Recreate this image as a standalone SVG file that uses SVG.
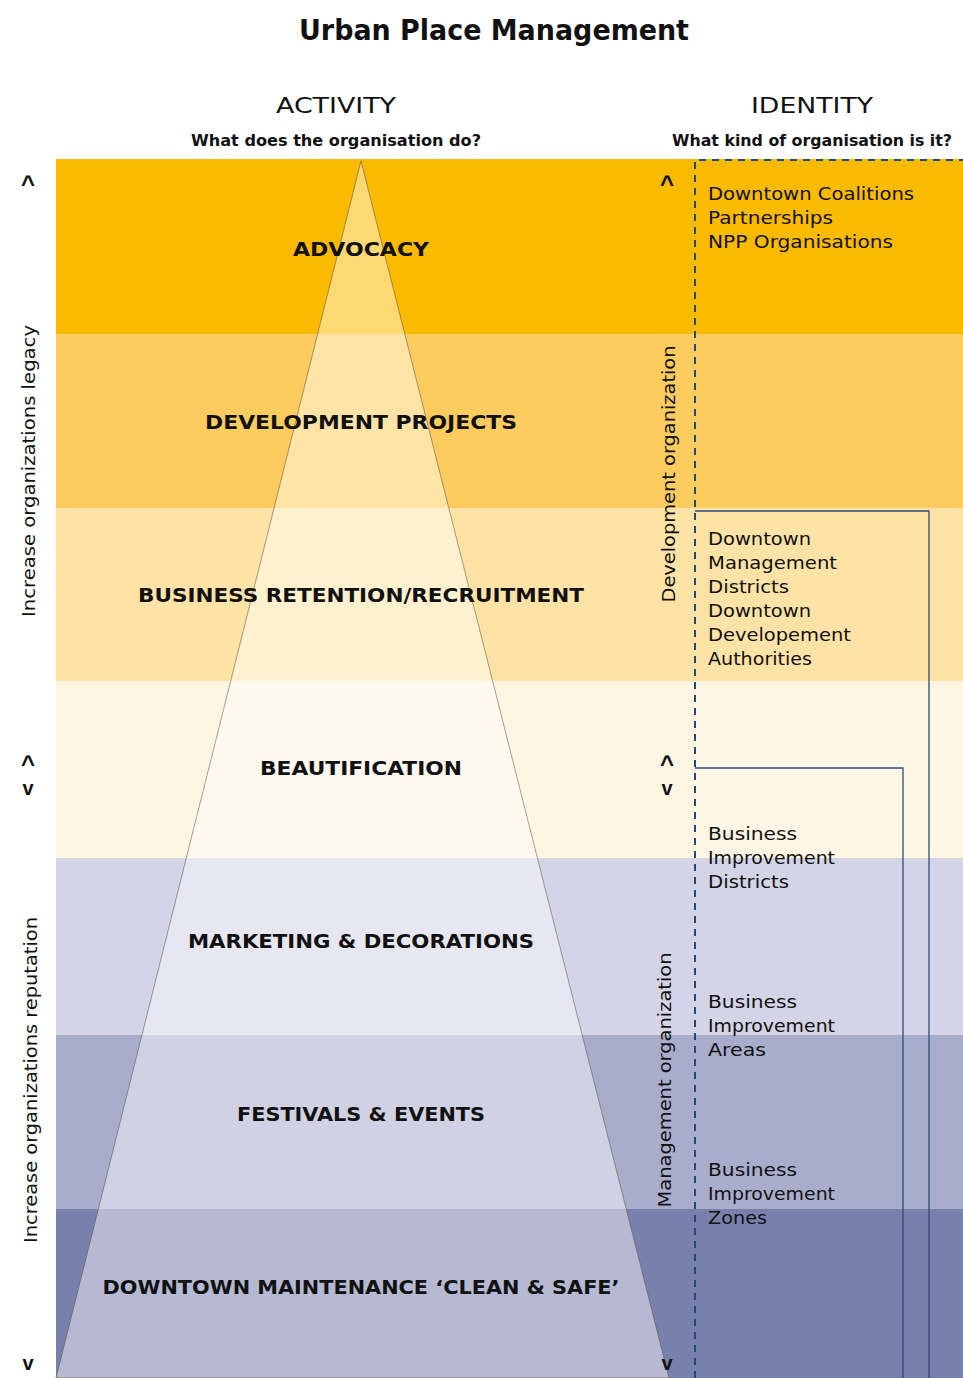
<svg xmlns="http://www.w3.org/2000/svg" width="963" height="1378" viewBox="0 0 963 1378">
<style>
.t{font-family:"DejaVu Sans","Liberation Sans",sans-serif;fill:#111}
.title{font-size:28px;font-weight:700;text-anchor:middle}
.hd{font-size:22px;font-weight:400;text-anchor:middle}
.sub{font-size:15.5px;font-weight:700;text-anchor:middle}
.band{font-size:20px;font-weight:700;text-anchor:middle}
.id{font-size:18px;font-weight:400}
.side{font-size:18px;font-weight:400;text-anchor:middle}
.car{font-family:"Liberation Sans",sans-serif;font-size:24px;font-weight:700;text-anchor:middle;fill:#111}
.cv{font-size:20px}
.dash{fill:none;stroke:#1f4a7a;stroke-width:2;stroke-dasharray:7,6}
.box{fill:none;stroke:#2a4c7c;stroke-width:1.3}
</style>
<rect width="963" height="1378" fill="#fff"/>
<g id="bands">
<rect x="56" y="159" width="907" height="175" fill="#FABA00"/>
<rect x="56" y="334" width="907" height="174" fill="#FDCC5F"/>
<rect x="56" y="508" width="907" height="173" fill="#FFE3A6"/>
<rect x="56" y="681" width="907" height="177" fill="#FFF5E3"/>
<rect x="56" y="858" width="907" height="177" fill="#D3D4E6"/>
<rect x="56" y="1035" width="907" height="174" fill="#A9ADCC"/>
<rect x="56" y="1209" width="907" height="169" fill="#7880AC"/>
</g>
<g id="pyramid">
<polygon points="361,161 669,1378 56,1378" fill="#fff" fill-opacity="0.45" stroke="#5a5040" stroke-opacity="0.6" stroke-width="0.9"/>
</g>
<g id="title"><text class="t title" x="494" y="40" textLength="390" lengthAdjust="spacingAndGlyphs">Urban Place Management</text></g>
<g id="headers">
<text class="t hd" x="336" y="113" textLength="120" lengthAdjust="spacingAndGlyphs">ACTIVITY</text>
<text class="t sub" x="336" y="146" textLength="290" lengthAdjust="spacingAndGlyphs">What does the organisation do?</text>
<text class="t hd" x="812" y="113" textLength="122" lengthAdjust="spacingAndGlyphs">IDENTITY</text>
<text class="t sub" x="812" y="146" textLength="280" lengthAdjust="spacingAndGlyphs">What kind of organisation is it?</text>
</g>
<g id="labels">
<text class="t band" x="361" y="256" textLength="136" lengthAdjust="spacingAndGlyphs">ADVOCACY</text>
<text class="t band" x="361" y="429" textLength="312" lengthAdjust="spacingAndGlyphs">DEVELOPMENT PROJECTS</text>
<text class="t band" x="361" y="602" textLength="446" lengthAdjust="spacingAndGlyphs">BUSINESS RETENTION/RECRUITMENT</text>
<text class="t band" x="361" y="775" textLength="202" lengthAdjust="spacingAndGlyphs">BEAUTIFICATION</text>
<text class="t band" x="361" y="948" textLength="346" lengthAdjust="spacingAndGlyphs">MARKETING &amp; DECORATIONS</text>
<text class="t band" x="361" y="1121" textLength="248" lengthAdjust="spacingAndGlyphs">FESTIVALS &amp; EVENTS</text>
<text class="t band" x="361" y="1294" textLength="517" lengthAdjust="spacingAndGlyphs">DOWNTOWN MAINTENANCE ‘CLEAN &amp; SAFE’</text>
</g>
<g id="connectors">
<path class="dash" d="M695,1378 V160 H963"/>
<path class="box" d="M695,511 H929 V1378"/>
<path class="box" d="M695,768 H903 V1378"/>
</g>
<g id="identities">
<text class="t id" x="708" y="200" textLength="206" lengthAdjust="spacingAndGlyphs">Downtown Coalitions</text>
<text class="t id" x="708" y="224" textLength="125" lengthAdjust="spacingAndGlyphs">Partnerships</text>
<text class="t id" x="708" y="248" textLength="185" lengthAdjust="spacingAndGlyphs">NPP Organisations</text>
<text class="t id" x="708" y="545" textLength="103" lengthAdjust="spacingAndGlyphs">Downtown</text>
<text class="t id" x="708" y="569" textLength="129" lengthAdjust="spacingAndGlyphs">Management</text>
<text class="t id" x="708" y="593" textLength="81" lengthAdjust="spacingAndGlyphs">Districts</text>
<text class="t id" x="708" y="617" textLength="103" lengthAdjust="spacingAndGlyphs">Downtown</text>
<text class="t id" x="708" y="641" textLength="143" lengthAdjust="spacingAndGlyphs">Developement</text>
<text class="t id" x="708" y="665" textLength="104" lengthAdjust="spacingAndGlyphs">Authorities</text>
<text class="t id" x="708" y="840" textLength="89" lengthAdjust="spacingAndGlyphs">Business</text>
<text class="t id" x="708" y="864" textLength="127" lengthAdjust="spacingAndGlyphs">Improvement</text>
<text class="t id" x="708" y="888" textLength="81" lengthAdjust="spacingAndGlyphs">Districts</text>
<text class="t id" x="708" y="1008" textLength="89" lengthAdjust="spacingAndGlyphs">Business</text>
<text class="t id" x="708" y="1032" textLength="127" lengthAdjust="spacingAndGlyphs">Improvement</text>
<text class="t id" x="708" y="1056" textLength="58" lengthAdjust="spacingAndGlyphs">Areas</text>
<text class="t id" x="708" y="1176" textLength="89" lengthAdjust="spacingAndGlyphs">Business</text>
<text class="t id" x="708" y="1200" textLength="127" lengthAdjust="spacingAndGlyphs">Improvement</text>
<text class="t id" x="708" y="1224" textLength="59" lengthAdjust="spacingAndGlyphs">Zones</text>
</g>
<g id="side-labels">
<text class="t side" transform="translate(35,471) rotate(-90)" textLength="292" lengthAdjust="spacingAndGlyphs">Increase organizations legacy</text>
<text class="t side" transform="translate(37,1080) rotate(-90)" textLength="326" lengthAdjust="spacingAndGlyphs">Increase organizations reputation</text>
<text class="t side" transform="translate(675,474) rotate(-90)" textLength="257" lengthAdjust="spacingAndGlyphs">Development organization</text>
<text class="t side" transform="translate(671,1080) rotate(-90)" textLength="255" lengthAdjust="spacingAndGlyphs">Management organization</text>
</g>
<g id="carets">
<text class="car" x="28" y="192">^</text>
<text class="car" x="667" y="192">^</text>
<text class="car" x="28" y="772">^<tspan class="cv" x="28" dy="23">v</tspan></text>
<text class="car" x="667" y="772">^<tspan class="cv" x="667" dy="23">v</tspan></text>
<text class="car cv" x="28" y="1370">v</text>
<text class="car cv" x="667" y="1370">v</text>
</g>
</svg>
